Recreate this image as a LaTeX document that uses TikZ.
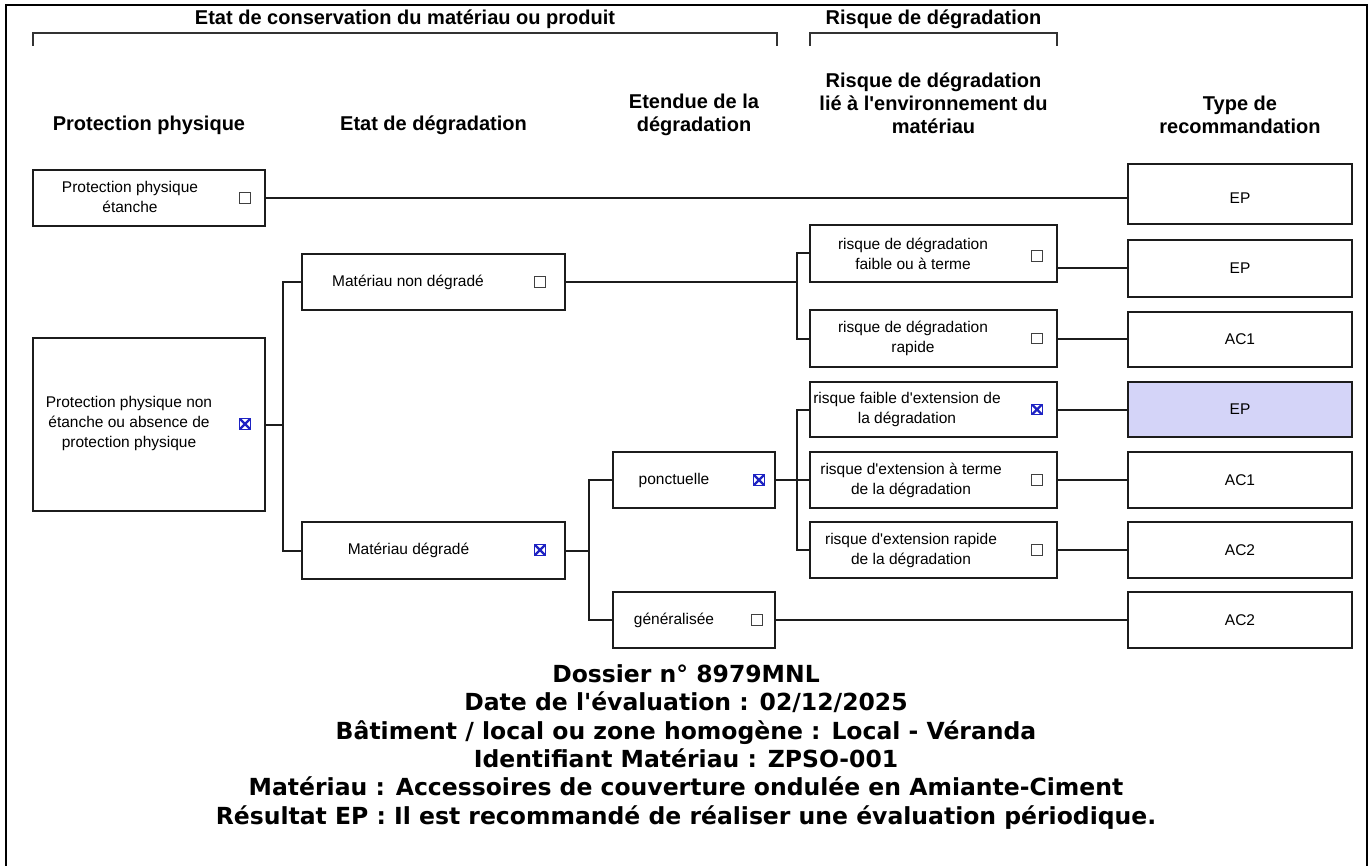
\documentclass[tikz,border=0pt]{standalone}
\usepackage{fontspec}
\setmainfont{Liberation Sans}[Ligatures=TeXOff]
\newfontfamily\vfont{DejaVu Sans}
\usetikzlibrary{calc}
\definecolor{xblue}{RGB}{30,35,195}
\definecolor{hl}{RGB}{212,212,248}
\definecolor{ln}{RGB}{28,28,28}
\begin{document}
\begin{tikzpicture}[x=1pt,y=-1pt,
  box/.style={draw=ln, line width=2pt, fill=white, inner sep=0},
  txt/.style={inner sep=0, align=center, font=\fontsize{15.5}{20}\selectfont},
  hd/.style={inner sep=0, align=center, font=\bfseries\fontsize{20}{23}\selectfont},
  conn/.style={draw=ln, line width=2pt},
  brk/.style={draw=black!80, line width=2pt},
  chk/.style={draw=black!75, line width=1.3pt, fill=white, minimum width=10.5, minimum height=10.5, inner sep=0},
  chkx/.style={chk, draw=xblue, path picture={\draw[xblue, line width=2.4pt] (path picture bounding box.south west) -- (path picture bounding box.north east) (path picture bounding box.north west) -- (path picture bounding box.south east);}}
]
\useasboundingbox (0,0) rectangle (1372,866);
% frame
\draw[line width=2pt] (5.5,866) -- (5.5,5) -- (1367,5) -- (1367,866);

% headers
\node[hd] (ht1) at (405,19) {Etat de conservation du matériau ou produit};
\node[hd] (ht2) at (933.5,19) {Risque de dégradation};
\draw[brk] (33,46) -- (33,33) -- (777,33) -- (777,46);
\draw[brk] (810,46) -- (810,33) -- (1057,33) -- (1057,46);
\node[hd] (h1) at (149,125) {Protection physique};
\node[hd] (h2) at (433.5,125) {Etat de dégradation};
\node[hd] (h3) at (694,114.5) {Etendue de la\\dégradation};
\node[hd] (h4) at (933.5,103) {Risque de dégradation\\lié à l'environnement du\\matériau};
\node[hd] (h5) at (1240,114.5) {Type de\\recommandation};

% boxes column 1
\node[box, minimum width=232, minimum height=56] (ppe) at (149,198) {};
\node[box, minimum width=232, minimum height=173] (ppne) at (149,424.5) {};
% column 2
\node[box, minimum width=263, minimum height=56] (mnd) at (433.5,282) {};
\node[box, minimum width=263, minimum height=57] (md) at (433.5,550.5) {};
% column 3
\node[box, minimum width=162, minimum height=56] (pon) at (694,480) {};
\node[box, minimum width=162, minimum height=56] (gen) at (694,620) {};
% column 4
\node[box, minimum width=247, minimum height=57] (r1) at (933.5,253.5) {};
\node[box, minimum width=247, minimum height=57] (r2) at (933.5,338.5) {};
\node[box, minimum width=247, minimum height=55] (r3) at (933.5,409.5) {};
\node[box, minimum width=247, minimum height=56] (r4) at (933.5,480) {};
\node[box, minimum width=247, minimum height=56] (r5) at (933.5,550) {};
% column 5
\node[box, minimum width=224, minimum height=60] (e1) at (1240,194) {};
\node[box, minimum width=224, minimum height=57] (e2) at (1240,268.5) {};
\node[box, minimum width=224, minimum height=55] (e3) at (1240,339.5) {};
\node[box, fill=hl, minimum width=224, minimum height=55] (e4) at (1240,409.5) {};
\node[box, minimum width=224, minimum height=56] (e5) at (1240,480) {};
\node[box, minimum width=224, minimum height=56] (e6) at (1240,550) {};
\node[box, minimum width=224, minimum height=56] (e7) at (1240,620) {};

% texts
\node[txt] (tppe) at (130,197) {Protection physique\\étanche};
\node[txt] (tppne) at (129,423) {Protection physique non\\étanche ou absence de\\protection physique};
\node[txt] (tmnd) at (408,282) {Matériau non dégradé};
\node[txt] (tmd) at (408.5,550) {Matériau dégradé};
\node[txt] (tpon) at (674,480) {ponctuelle};
\node[txt] (tgen) at (674,620) {généralisée};
\node[txt] (tr1) at (913,253.5) {risque de dégradation\\faible ou à terme};
\node[txt] (tr2) at (913,338.5) {risque de dégradation\\rapide};
\node[txt] (tr3) at (907,409.5) {risque faible d'extension de\\la dégradation};
\node[txt] (tr4) at (911,480) {risque d'extension à terme\\de la dégradation};
\node[txt] (tr5) at (911,550) {risque d'extension rapide\\de la dégradation};
\node[txt] (te1) at (1240,198) {EP};
\node[txt] (te2) at (1240,268.5) {EP};
\node[txt] (te3) at (1240,339.5) {AC1};
\node[txt] (te4) at (1240,409.5) {EP};
\node[txt] (te5) at (1240,480) {AC1};
\node[txt] (te6) at (1240,550) {AC2};
\node[txt] (te7) at (1240,620) {AC2};

% checkboxes
\node[chk] (c1) at (245,198) {};
\node[chkx] (c2) at (245,424) {};
\node[chk] (c3) at (540,282) {};
\node[chkx] (c4) at (540,550) {};
\node[chkx] (c5) at (759,480) {};
\node[chk] (c6) at (757,620) {};
\node[chk] (c7) at (1037,256) {};
\node[chk] (c8) at (1037,338.5) {};
\node[chkx] (c9) at (1037,409.5) {};
\node[chk] (c10) at (1037,480) {};
\node[chk] (c11) at (1037,550) {};

% junctions
\coordinate (j1) at (283,424.5);
\coordinate (j2) at (797,282);
\coordinate (j3) at (589,550.5);
\coordinate (j4) at (797,480);

% connectors
\draw[conn] (ppe.east) -- (ppe.east -| e1.west);
\draw[conn] (ppne.east) -- (j1);
\draw[conn] (mnd.west) -- (mnd.west -| j1) -- (md.west -| j1) -- (md.west);
\draw[conn] (mnd.east) -- (j2);
\draw[conn] (r1.west) -- (r1.west -| j2) -- (r2.west -| j2) -- (r2.west);
\draw[conn] (r1.east |- e2.west) -- (e2.west);
\draw[conn] (r2.east) -- (r2.east -| e3.west);
\draw[conn] (md.east) -- (j3);
\draw[conn] (pon.west) -- (pon.west -| j3) -- (gen.west -| j3) -- (gen.west);
\draw[conn] (pon.east) -- (j4);
\draw[conn] (r3.west) -- (r3.west -| j4) -- (r5.west -| j4) -- (r5.west);
\draw[conn] (j4) -- (r4.west);
\draw[conn] (r3.east) -- (r3.east -| e4.west);
\draw[conn] (r4.east) -- (r4.east -| e5.west);
\draw[conn] (r5.east) -- (r5.east -| e6.west);
\draw[conn] (gen.east) -- (gen.east -| e7.west);

% bottom info
\node[inner sep=0, anchor=north, align=center, font=\vfont\bfseries\fontsize{23.5}{28.3}\selectfont] (info) at (686,664.5)
 {Dossier n° 8979MNL\\Date de l'évaluation : 02/12/2025\\Bâtiment / local ou zone homogène : Local - Véranda\\Identifiant Matériau : ZPSO-001\\Matériau : Accessoires de couverture ondulée en Amiante-Ciment\\Résultat EP : Il est recommandé de réaliser une évaluation périodique.};
\end{tikzpicture}
\end{document}
